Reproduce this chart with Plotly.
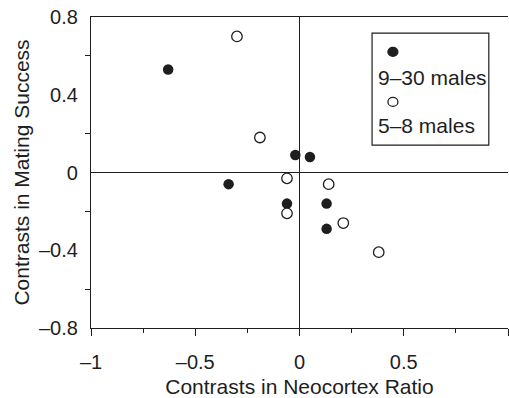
import plotly.graph_objects as go

# Phylogenetic contrasts: neocortex ratio vs. mating success
large_x = [-0.63, -0.34, -0.06, -0.02, 0.05, 0.13, 0.13]
large_y = [0.53, -0.06, -0.16, 0.09, 0.08, -0.16, -0.29]
small_x = [-0.30, -0.19, -0.06, 0.14, -0.06, 0.21, 0.38]
small_y = [0.70, 0.18, -0.03, -0.06, -0.21, -0.26, -0.41]

x_ticks = [-1, -0.5, 0, 0.5, 1]
x_ticktext = ["\u20131", "\u20130.5", "0", "0.5", "1"]
x_minor = [-0.75, -0.25, 0.25, 0.75]
y_ticks = [-0.8, -0.4, 0, 0.4, 0.8]
y_ticktext = ["\u20130.8", "\u20130.4", "0", "0.4", "0.8"]
y_minor = [-0.6, -0.2, 0.2, 0.6]

legend_labels = ["9\u201330 males", "5\u20138 males"]

INK = "#1e1e1e"
FONT = "Liberation Sans, Arial, sans-serif"
FS_TICK = 20
FS_TITLE = 21

fig = go.Figure()
fig.add_trace(go.Scatter(
    x=large_x, y=large_y, mode="markers", name=legend_labels[0],
    marker=dict(symbol="circle", size=10.5, color=INK, line=dict(width=0)),
))
fig.add_trace(go.Scatter(
    x=small_x, y=small_y, mode="markers", name=legend_labels[1],
    marker=dict(symbol="circle", size=10.5, color="white", line=dict(width=1.3, color=INK)),
))

fig.update_layout(
    width=509, height=398,
    margin=dict(l=91, r=1, t=17, b=70),
    paper_bgcolor="white", plot_bgcolor="white",
    showlegend=False,
    font=dict(family=FONT, size=FS_TICK, color=INK),
    xaxis=dict(
        range=[-1, 1], showgrid=False, automargin=False,
        showline=True, linecolor=INK, linewidth=1.2, mirror=True,
        zeroline=True, zerolinecolor=INK, zerolinewidth=1.2,
        tickmode="array", tickvals=x_ticks, ticktext=x_ticktext,
        ticks="outside", ticklen=7, tickwidth=1.2, tickcolor=INK,
        ticklabelstandoff=9,
        minor=dict(tickmode="array", tickvals=x_minor, ticks="outside",
                   ticklen=4, tickwidth=1.2, tickcolor=INK),
        tickfont=dict(size=FS_TICK),
        title=dict(text="Contrasts in Neocortex Ratio", font=dict(size=FS_TITLE), standoff=12),
    ),
    # inward half of the crossing ticks on the x axis
    xaxis2=dict(
        overlaying="x", anchor="y", side="bottom", range=[-1, 1],
        showgrid=False, zeroline=False, showline=False, showticklabels=False,
        tickmode="array", tickvals=x_ticks + x_minor,
        ticks="inside", ticklen=5, tickwidth=1.2, tickcolor=INK,
    ),
    yaxis=dict(
        range=[-0.8, 0.8], showgrid=False, automargin=False,
        showline=True, linecolor=INK, linewidth=1.2, mirror=False,
        zeroline=True, zerolinecolor=INK, zerolinewidth=1.2,
        tickmode="array", tickvals=y_ticks, ticktext=y_ticktext,
        ticks="", ticklabelstandoff=8,
        minor=dict(tickmode="array", tickvals=y_minor, ticks="outside",
                   ticklen=5, tickwidth=1.2, tickcolor=INK),
        tickfont=dict(size=FS_TICK),
        title=dict(text="Contrasts in Mating Success", font=dict(size=FS_TITLE), standoff=3),
    ),
    # inward half of the crossing ticks on the y axis
    yaxis2=dict(
        overlaying="y", anchor="x", side="left", range=[-0.8, 0.8],
        showgrid=False, zeroline=False, showline=False, showticklabels=False,
        tickmode="array", tickvals=y_minor,
        ticks="inside", ticklen=5, tickwidth=1.2, tickcolor=INK,
    ),
)

# Legend box with keys stacked above their labels
fig.add_shape(type="rect", xref="paper", yref="paper",
              x0=0.674, x1=0.954, y0=0.588, y1=0.948,
              line=dict(color=INK, width=1.2), fillcolor="white", layer="above")
for ypos, fill in [(0.888, INK), (0.727, "white")]:
    fig.add_shape(type="circle", xref="paper", yref="paper",
                  xsizemode="pixel", ysizemode="pixel",
                  xanchor=0.724, yanchor=ypos, x0=-5, x1=5, y0=-4.5, y1=4.5,
                  line=dict(color=INK, width=1.3), fillcolor=fill, layer="above")
for ypos, label in zip([0.804, 0.650], legend_labels):
    fig.add_annotation(xref="paper", yref="paper", x=0.684, y=ypos,
                       xanchor="left", yanchor="middle", showarrow=False,
                       text=label, font=dict(size=FS_TITLE, color=INK))

fig.write_html("out.html")
